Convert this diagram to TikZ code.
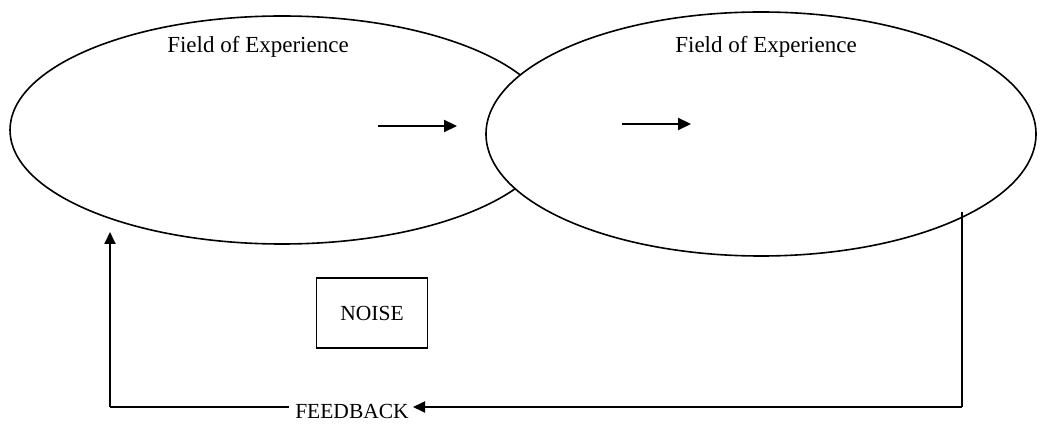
\documentclass[tikz,border=0pt]{standalone}
\usepackage{fontspec}
\setmainfont{Liberation Serif}
\usetikzlibrary{shapes.geometric,arrows.meta}
\begin{document}
\begin{tikzpicture}[x=1pt,y=-1pt,
  field/.style={draw,ellipse,line width=1.6pt,inner sep=0pt,fill=white},
  lbl/.style={font=\fontsize{23}{27}\selectfont,inner sep=0pt},
  flow/.style={line width=2.2pt,-{Triangle[length=13pt,width=12pt]}},
  fb/.style={line width=1.5pt},
  fbarrow/.style={line width=1.8pt,-{Triangle[length=12pt,width=11pt]}},
  noisebox/.style={draw,line width=1.5pt,minimum width=111pt,minimum height=70pt,font=\fontsize{21.5}{25}\selectfont}]
\useasboundingbox (0,0) rectangle (1047,430);
\node[field,minimum width=544pt,minimum height=228pt] (left) at (282,130) {};
\node[field,minimum width=550pt,minimum height=244pt] (right) at (761,134) {};
\node[lbl] (t1) at (258,47) {Field of Experience};
\node[lbl] (t2) at (766,47) {Field of Experience};
\coordinate (a1s) at (378,126);
\coordinate (a1e) at (457,126);
\coordinate (a2s) at (622,124);
\coordinate (a2e) at (691,124);
\draw[flow] (a1s) -- (a1e);
\draw[flow] (a2s) -- (a2e);
\node[noisebox] (noise) at (372,313) {NOISE};
\node[lbl,font=\fontsize{21.5}{25}\selectfont,anchor=base] (fbk) at (352,418) {FEEDBACK};
\coordinate (rtop) at (962,212);
\coordinate (rbot) at (962,407);
\coordinate (fbtip) at (413,407);
\coordinate (lbot) at (110,407);
\coordinate (ltip) at (110,232);
\draw[fb] (rtop) -- (rbot);
\draw[fbarrow] (rbot) -- (fbtip);
\draw[fb] (fbk.west |- lbot) ++(-6,0) -- (lbot);
\draw[fbarrow] (lbot) -- (ltip);
\end{tikzpicture}
\end{document}
